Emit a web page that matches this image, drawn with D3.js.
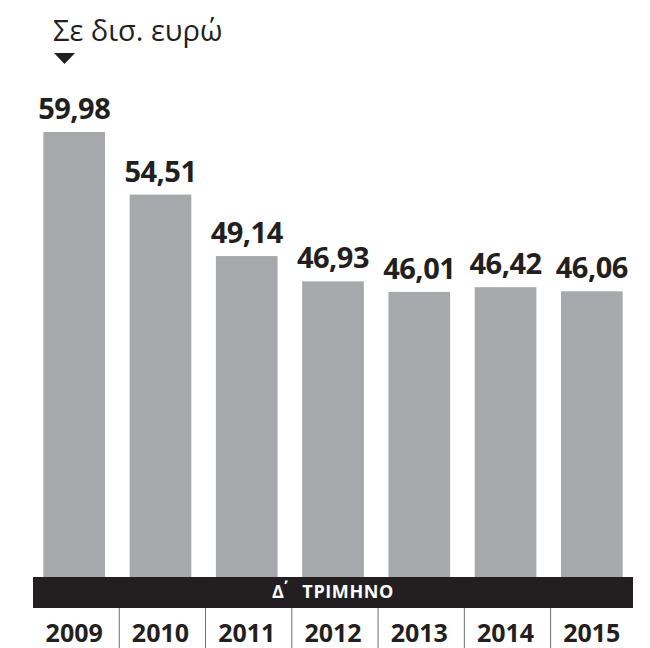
<!DOCTYPE html>
<html>
<head>
<meta charset="utf-8">
<script src="https://cdn.jsdelivr.net/npm/d3@7"></script>
<style>
  html, body { margin: 0; padding: 0; background: #ffffff; }
  svg { display: block; }
</style>
</head>
<body>
<svg id="chart" width="650" height="648"></svg>
<script>
const years = ["2009", "2010", "2011", "2012", "2013", "2014", "2015"];
const values = [59.98, 54.51, 49.14, 46.93, 46.01, 46.42, 46.06];
const valueLabels = ["59,98", "54,51", "49,14", "46,93", "46,01", "46,42", "46,06"];
const unitTitle = "Σε δισ. ευρώ";
const bandParts = ["Δ", "\u0384", " ΤΡΙΜΗΝΟ"];

const W = 650, H = 648;
const left = 33, right = 633;
const baseY = 577, bandBottom = 608;
const dark = "#231f20", barColor = "#a7a8ab";
const font = "'Open Sans', 'Liberation Sans', sans-serif";

const svg = d3.select("#chart");

const x = d3.scaleBand().domain(years).range([left, right])
  .paddingInner(0.285).paddingOuter(0.12);
const y = d3.scaleLinear().domain([21.1, 59.98]).range([baseY, 132]);

const data = years.map((yr, i) => ({ yr, v: values[i], label: valueLabels[i] }));

// bars
svg.append("g").selectAll("rect").data(data).join("rect")
  .attr("x", d => x(d.yr))
  .attr("y", d => y(d.v))
  .attr("width", x.bandwidth())
  .attr("height", d => baseY - y(d.v))
  .attr("fill", barColor);

// value labels
svg.append("g").selectAll("text").data(data).join("text")
  .attr("x", d => x(d.yr) + x.bandwidth() / 2)
  .attr("y", d => y(d.v) - 13)
  .attr("text-anchor", "middle")
  .attr("font-family", font)
  .attr("font-weight", 700)
  .attr("font-size", 29)
  .attr("fill", dark)
  .attr("letter-spacing", -0.5)
  .text(d => d.label);

// black band
svg.append("rect")
  .attr("x", left).attr("y", baseY)
  .attr("width", right - left).attr("height", bandBottom - baseY)
  .attr("fill", dark);
const bt = svg.append("text")
  .attr("x", (left + right) / 2).attr("y", 598)
  .attr("text-anchor", "middle")
  .attr("font-family", font)
  .attr("font-weight", 700)
  .attr("font-size", 18)
  .attr("letter-spacing", 0.6)
  .attr("fill", "#ffffff");
bt.selectAll("tspan").data(bandParts).join("tspan")
  .attr("dx", (d, i) => i === 1 ? 7 : (i === 2 ? 5 : 0))
  .text(d => d);

// year axis (separators + labels)
const step = x.step();
const seps = years.slice(1).map((yr, i) => left + step * (i + 1));
svg.append("g").selectAll("line").data(seps).join("line")
  .attr("x1", d => d).attr("x2", d => d)
  .attr("y1", bandBottom).attr("y2", H)
  .attr("stroke", "#6d6e71").attr("stroke-width", 1);

svg.append("g").selectAll("text").data(years).join("text")
  .attr("x", d => x(d) + x.bandwidth() / 2)
  .attr("y", 642)
  .attr("text-anchor", "middle")
  .attr("font-family", font)
  .attr("font-weight", 700)
  .attr("font-size", 25)
  .attr("fill", dark)
  .text(d => d);

// title and marker
svg.append("text")
  .attr("x", 53).attr("y", 41)
  .attr("font-family", font)
  .attr("font-size", 29)
  .attr("fill", dark)
  .text(unitTitle);
svg.append("path")
  .attr("d", "M54,53 L75,53 L64.5,64 Z")
  .attr("fill", dark);
</script>
</body>
</html>
